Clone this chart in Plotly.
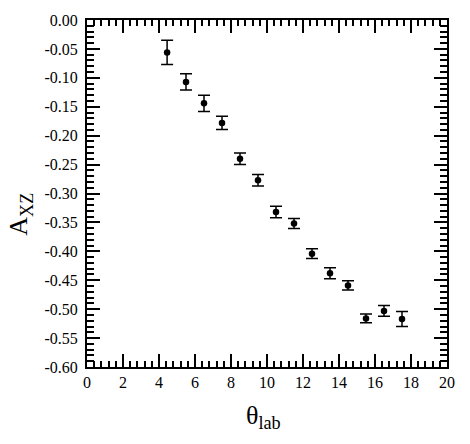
import plotly.graph_objects as go

theta_lab = [4.45, 5.5, 6.5, 7.5, 8.5, 9.5, 10.5, 11.5, 12.5, 13.5, 14.5, 15.5, 16.5, 17.5]
a_xz = [-0.056, -0.107, -0.144, -0.178, -0.240, -0.277, -0.332, -0.352, -0.404, -0.438, -0.459, -0.516, -0.503, -0.517]
a_xz_err = [0.021, 0.014, 0.014, 0.0115, 0.010, 0.010, 0.010, 0.0086, 0.0086, 0.0094, 0.008, 0.0077, 0.0094, 0.0129]

x_tickvals = [0, 2, 4, 6, 8, 10, 12, 14, 16, 18, 20]
y_tickvals = [0.0, -0.05, -0.10, -0.15, -0.20, -0.25, -0.30, -0.35, -0.40, -0.45, -0.50, -0.55, -0.60]
y_ticktext = ["0.00", "-0.05", "-0.10", "-0.15", "-0.20", "-0.25", "-0.30", "-0.35", "-0.40", "-0.45", "-0.50", "-0.55", "-0.60"]

font_family = "Liberation Serif, DejaVu Serif, serif"

fig = go.Figure()
fig.add_trace(go.Scatter(
    x=theta_lab, y=a_xz, mode="markers",
    marker=dict(color="black", size=6.5, symbol="circle"),
    error_y=dict(type="data", array=a_xz_err, visible=True, color="black", thickness=1.5, width=6),
    showlegend=False,
))

axis_common = dict(
    showline=True, linecolor="black", linewidth=2, mirror="allticks",
    ticks="inside", ticklen=13, tickwidth=2, tickcolor="black",
    showgrid=False, zeroline=False,
    tickfont=dict(family=font_family, size=16, color="black"),
)

fig.update_xaxes(
    range=[0, 20], tickvals=x_tickvals,
    minor=dict(ticks="inside", ticklen=6, tickwidth=1.5, tickcolor="black", dtick=0.4, showgrid=False),
    **axis_common,
)
fig.update_yaxes(
    range=[-0.6, 0.0], tickvals=y_tickvals, ticktext=y_ticktext,
    ticklabelstandoff=4,
    minor=dict(ticks="inside", ticklen=7, tickwidth=1.5, tickcolor="black", dtick=0.01, showgrid=False),
    **axis_common,
)

fig.add_annotation(
    text="A<sub>XZ</sub>", xref="paper", yref="paper", x=-0.185, y=0.44,
    showarrow=False, textangle=-90, xanchor="center", yanchor="middle",
    font=dict(family=font_family, size=26, color="black"),
)
fig.add_annotation(
    text="θ<sub>lab</sub>", xref="paper", yref="paper", x=0.49, y=-0.143,
    showarrow=False, xanchor="center", yanchor="middle",
    font=dict(family=font_family, size=26, color="black"),
)

fig.update_layout(
    width=470, height=444,
    margin=dict(l=87, r=23, t=15, b=77),
    plot_bgcolor="white", paper_bgcolor="white",
)

fig.write_html(
    "out.html",
    config={"displayModeBar": False},
    post_script="document.body.style.margin='0';document.body.style.overflow='hidden';",
)
